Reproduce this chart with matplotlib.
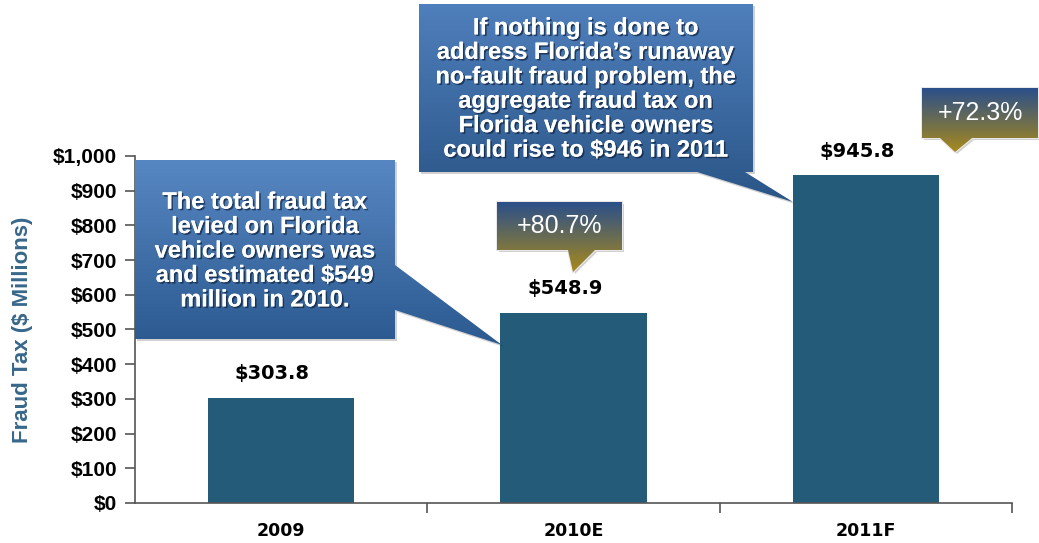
import matplotlib
matplotlib.use("Agg")
import matplotlib.pyplot as plt
import matplotlib.patheffects as pe
from matplotlib.colors import LinearSegmentedColormap
from matplotlib.patches import Polygon
import numpy as np

# data
categories = ["2009", "2010E", "2011F"]
fraud_tax = [303.8, 548.9, 945.8]
growth_labels = ["+80.7%", "+72.3%"]
y_ticks = [0, 100, 200, 300, 400, 500, 600, 700, 800, 900, 1000]

note_2010 = ("The total fraud tax\nlevied on Florida\nvehicle owners was\n"
             "and estimated \\$549\nmillion in 2010.")
note_2011 = ("If nothing is done to\naddress Florida\u2019s runaway\n"
             "no-fault fraud problem, the\naggregate fraud tax on\n"
             "Florida vehicle owners\ncould rise to \\$946 in 2011")

W, H = 1039, 543
BAR = "#245b79"
AXC = "#555555"

fig = plt.figure(figsize=(W / 100, H / 100), dpi=100)
ax = fig.add_axes([135 / W, 40 / H, 877 / W, 347 / H])

x = np.arange(len(categories))
ax.bar(x, fraud_tax, width=0.5, color=BAR, zorder=2)
ax.set_xlim(-0.5, 2.5)
ax.set_ylim(0, 1000)

for s in ["top", "right"]:
    ax.spines[s].set_visible(False)
for s in ["left", "bottom"]:
    ax.spines[s].set_color(AXC)
    ax.spines[s].set_linewidth(1.2)

ax.set_yticks(y_ticks)
ax.set_yticklabels([f"${v:,}" for v in y_ticks],
                   fontfamily="Liberation Sans", fontweight="bold", fontsize=15)
ax.tick_params(axis="y", direction="out", length=7, width=1.2, color=AXC, pad=6)

ax.set_xticks(x)
ax.set_xticklabels(categories, fontfamily="DejaVu Sans", fontweight="bold",
                   fontsize=12.5)
ax.tick_params(axis="x", length=0, pad=14)
ax.set_xticks([0.5, 1.5, 2.5], minor=True)
ax.tick_params(axis="x", which="minor", direction="out", length=7, width=1.2,
               color=AXC)

ax.set_ylabel("Fraud Tax ($ Millions)", fontfamily="Liberation Sans",
              fontweight="bold", fontsize=16, color="#37678a", labelpad=14)

for i, v in enumerate(fraud_tax):
    ax.text(i - 0.03, v + 68, f"${v:.1f}", ha="center", va="center",
            fontfamily="DejaVu Sans", fontweight="bold", fontsize=14,
            color="black")

# overlay in pixel coordinates for the callouts
ov = fig.add_axes([0, 0, 1, 1], zorder=5)
ov.patch.set_alpha(0)


def callout(pts, top, bottom, c_top, c_bot, edge=None, shadow=True):
    xs = [p[0] for p in pts]
    if shadow:
        sh = Polygon([(px + 2, py + 2) for px, py in pts], closed=True,
                     facecolor="#000000", alpha=0.18, edgecolor="none")
        ov.add_patch(sh)
    poly = Polygon(pts, closed=True, facecolor="none",
                   edgecolor=edge if edge else "none", linewidth=1.5)
    ov.add_patch(poly)
    cmap = LinearSegmentedColormap.from_list("g", [c_top, c_bot])
    grad = np.linspace(0, 1, 256).reshape(-1, 1)
    im = ov.imshow(grad, cmap=cmap, aspect="auto", origin="upper",
                   extent=(min(xs), max(xs), bottom, top), zorder=1)
    im.set_clip_path(poly)


# 2010 note, pointing at the 2010E bar
callout([(135, 160), (395, 160), (395, 265), (502, 345), (395, 310),
         (395, 339), (135, 339)],
        160, 345, "#5787c2", "#2b5990")
# 2011 note, pointing at the 2011F bar
callout([(419, 4), (753, 4), (753, 172), (745, 172), (793, 202),
         (697, 172), (419, 172)],
        4, 202, "#4f7fbc", "#2a5587")
# growth tags
callout([(497, 202), (622, 202), (622, 250), (595, 250), (573, 272),
         (568, 250), (497, 250)],
        202, 272, "#2a4f8a", "#a8891c", edge="#e8e8e8")
callout([(922, 88), (1038, 88), (1038, 138), (972, 138), (955, 152),
         (940, 138), (922, 138)],
        88, 152, "#2a4f8a", "#a8891c", edge="#e8e8e8")

shadow_fx = [pe.withSimplePatchShadow(offset=(1.2, -1.2),
                                      shadow_rgbFace="#10213a", alpha=0.7),
             pe.Normal()]
ov.text(265, 251, note_2010, ha="center", va="center", color="white",
        fontfamily="Liberation Sans", fontweight="bold", fontsize=17,
        linespacing=1.08, path_effects=shadow_fx, zorder=3)
ov.text(586, 89, note_2011, ha="center", va="center", color="white",
        fontfamily="Liberation Sans", fontweight="bold", fontsize=17,
        linespacing=1.08, path_effects=shadow_fx, zorder=3)
ov.text(559, 226, growth_labels[0], ha="center", va="center", color="white",
        fontfamily="Liberation Sans", fontsize=18, zorder=3)
ov.text(980, 113, growth_labels[1], ha="center", va="center", color="white",
        fontfamily="Liberation Sans", fontsize=18, zorder=3)

ov.set_xlim(0, W)
ov.set_ylim(H, 0)
ov.axis("off")

fig.savefig("out.png", dpi=100)
